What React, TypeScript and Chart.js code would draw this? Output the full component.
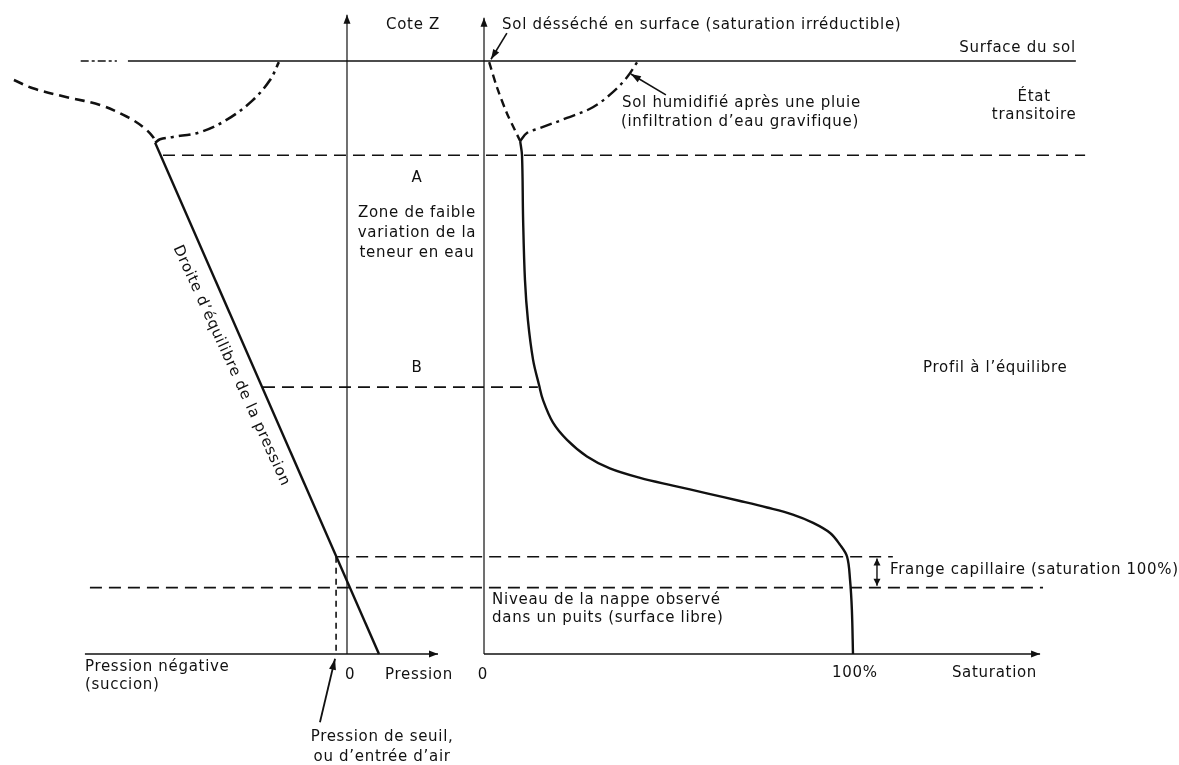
import React, { useEffect, useRef } from "react";
import { Chart, registerables } from "chart.js";

Chart.register(...registerables);

const INK = "#111111";
const FONT_FAMILY = "'DejaVu Sans', 'Liberation Sans', sans-serif";

// ---- Elevations (Cote Z) ----
const zSurface = 100;
const zA = 84.1;
const zB = 45.0;
const zFrange = 16.4;
const zNappe = 11.2;
const zBase = 0;
const zAxisTopLeft = 107.8;
const zAxisTopRight = 107.3;

// ---- Pressure side (left) ----
const pressionLineP = [-73.8, 12.3];
const pressionLineZ = [86.2, 0];
const pSeuil = -4.2;
const dryPressionP = [-128.1, -120.8, -107.7, -95.0, -84.6, -78.5, -74.6, -73.8];
const dryPressionZ = [96.8, 95.4, 93.9, 92.6, 90.6, 88.9, 87.2, 86.2];
const wetPressionP = [-73.8, -71.9, -66.9, -56.5, -46.2, -36.2, -29.6, -26.2];
const wetPressionZ = [86.2, 86.8, 87.2, 88.0, 90.1, 93.4, 96.8, 99.8];
const pressionBaselineP = [-100.8, 35.0];

// ---- Saturation side (right), % ----
const drySatS = [1.4, 3.5, 6.2, 8.1, 9.8];
const drySatZ = [99.8, 95.6, 91.2, 88.7, 86.5];
const wetSatS = [9.8, 11.7, 15.2, 22.5, 29.5, 35.0, 38.8, 41.5];
const wetSatZ = [86.5, 87.9, 88.7, 90.4, 92.2, 94.8, 97.3, 99.8];
const eqSatS = [9.8, 10.3, 10.6, 11.1, 11.9, 13.3, 14.9, 16.0, 18.7, 22.5, 27.9, 34.1, 42.3, 51.2, 60.4, 69.4, 76.7, 83.7, 89.2, 93.8, 96.5, 98.4, 99.2, 99.7, 100];
const eqSatZ = [86.5, 84.1, 73.2, 63.1, 56.3, 49.6, 45.4, 42.8, 39.0, 36.1, 33.3, 31.3, 29.7, 28.4, 27.1, 25.8, 24.7, 23.5, 22.1, 20.4, 18.4, 16.4, 12.5, 7.4, 0];
const saturationBaselineS = [0, 150.7];

// ---- Horizontal reference levels (extent, saturation units) ----
const surfaceLineS = [-96.5, 160.4];
const surfaceDashS = [-109.3, -99.5];
const levelAS = [-87.0, 162.9];
const levelBS = [-59.9, 14.6];
const frangeS = [-39.8, 110.8];
const nappeS = [-106.8, 151.5];

// ---- Pointers ----
const sechePointerS = [6.2, 1.9];
const sechePointerZ = [104.7, 100.3];
const humidePointerS = [49.3, 39.8];
const humidePointerZ = [94.3, 97.8];
const seuilPointerP = [-10.4, -4.6];
const seuilPointerZ = [-11.5, -0.8];
const frangeArrowS = [106.5, 106.5];
const frangeArrowZ = [16.1, 11.5];

// ---- Scale ranges ----
const yRange = [-18.72, 110.29];
const xpRange = [-133.46, 320.0];
const xsRange = [-131.17, 188.35];

type Label = { text: string; axis: "xp" | "xs"; x: number; z: number; align?: CanvasTextAlign; rotate?: number };
const labels: Label[] = [
  { text: "Cote Z", axis: "xp", x: 15, z: 106.1, align: "left" },
  { text: "Sol désséché en surface (saturation irréductible)", axis: "xs", x: 4.9, z: 106.1, align: "left" },
  { text: "Surface du sol", axis: "xs", x: 160.4, z: 102.2, align: "right" },
  { text: "Sol humidifié après une pluie", axis: "xs", x: 37.4, z: 92.9, align: "left" },
  { text: "(infiltration d’eau gravifique)", axis: "xs", x: 37.1, z: 89.7, align: "left" },
  { text: "État", axis: "xs", x: 149.1, z: 93.9, align: "center" },
  { text: "transitoire", axis: "xs", x: 149.1, z: 90.9, align: "center" },
  { text: "A", axis: "xp", x: 26.9, z: 80.3, align: "center" },
  { text: "Zone de faible", axis: "xp", x: 26.9, z: 74.4, align: "center" },
  { text: "variation de la", axis: "xp", x: 26.9, z: 71.0, align: "center" },
  { text: "teneur en eau", axis: "xp", x: 26.9, z: 67.6, align: "center" },
  { text: "B", axis: "xp", x: 26.9, z: 48.2, align: "center" },
  { text: "Profil à l’équilibre", axis: "xs", x: 119.0, z: 48.2, align: "left" },
  { text: "Droite d’équilibre de la pression", axis: "xp", x: -44.5, z: 48.6, align: "center", rotate: 65.5 },
  { text: "Frange capillaire (saturation 100%)", axis: "xs", x: 110.0, z: 14.2, align: "left" },
  { text: "Niveau de la nappe observé", axis: "xs", x: 2.2, z: 9.1, align: "left" },
  { text: "dans un puits (surface libre)", axis: "xs", x: 2.2, z: 6.1, align: "left" },
  { text: "Pression négative", axis: "xp", x: -100.8, z: -2.2, align: "left" },
  { text: "(succion)", axis: "xp", x: -100.8, z: -5.2, align: "left" },
  { text: "0", axis: "xp", x: 1.2, z: -3.5, align: "center" },
  { text: "Pression", axis: "xp", x: 14.6, z: -3.5, align: "left" },
  { text: "0", axis: "xs", x: -0.3, z: -3.5, align: "center" },
  { text: "100%", axis: "xs", x: 100.5, z: -3.2, align: "center" },
  { text: "Saturation", axis: "xs", x: 126.8, z: -3.2, align: "left" },
  { text: "Pression de seuil,", axis: "xp", x: 13.5, z: -14.0, align: "center" },
  { text: "ou d’entrée d’air", axis: "xp", x: 13.5, z: -17.4, align: "center" },
];

const zip = (xs: number[], zs: number[]) => xs.map((x, i) => ({ x, y: zs[i] }));
const flat = (xs: number[], z: number) => xs.map((x) => ({ x, y: z }));

function mk(axis: "xp" | "xs", data: { x: number; y: number }[], o: any = {}) {
  return {
    xAxisID: axis,
    yAxisID: "y",
    data,
    showLine: true,
    pointRadius: 0,
    borderColor: INK,
    backgroundColor: INK,
    borderWidth: o.w ?? 1.5,
    borderDash: o.dash ?? [],
    tension: o.tension ?? 0,
    borderCapStyle: "butt",
    arrowEnd: o.arrowEnd ?? false,
    arrowStart: o.arrowStart ?? false,
    arrowLen: o.arrowLen ?? 9,
    arrowHalf: o.arrowHalf ?? 3.5,
  };
}

const DASH = [12, 7];

function buildDatasets() {
  return [
    // axes
    mk("xp", zip([0, 0], [zBase, zAxisTopLeft]), { w: 1.2, arrowEnd: true }),
    mk("xs", zip([0, 0], [zBase, zAxisTopRight]), { w: 1.2, arrowEnd: true }),
    mk("xp", flat(pressionBaselineP, zBase), { w: 1.4, arrowEnd: true }),
    mk("xs", flat(saturationBaselineS, zBase), { w: 1.4, arrowEnd: true }),
    // surface
    mk("xs", flat(surfaceLineS, zSurface), { w: 1.6 }),
    mk("xs", flat(surfaceDashS, zSurface), { w: 1.4, dash: [8, 3, 3, 3] }),
    // levels
    mk("xs", flat(levelAS, zA), { w: 1.6, dash: DASH }),
    mk("xs", flat(levelBS, zB), { w: 1.6, dash: DASH }),
    mk("xs", flat(frangeS, zFrange), { w: 1.6, dash: DASH }),
    mk("xs", flat(nappeS, zNappe), { w: 1.6, dash: DASH }),
    mk("xp", zip([pSeuil, pSeuil], [zFrange, zBase]), { w: 1.6, dash: [6, 5] }),
    // pressure side
    mk("xp", zip(pressionLineP, pressionLineZ), { w: 2.4 }),
    mk("xp", zip(dryPressionP, dryPressionZ), { w: 2.6, dash: [10, 6], tension: 0.35 }),
    mk("xp", zip(wetPressionP, wetPressionZ), { w: 2.6, dash: [12, 5, 3, 5], tension: 0.35 }),
    // saturation side
    mk("xs", zip(drySatS, drySatZ), { w: 2.4, dash: [8, 5], tension: 0.3 }),
    mk("xs", zip(wetSatS, wetSatZ), { w: 2.4, dash: [12, 5, 3, 5], tension: 0.35 }),
    mk("xs", zip(eqSatS, eqSatZ), { w: 2.4, tension: 0.35 }),
    // pointers
    mk("xs", zip(sechePointerS, sechePointerZ), { w: 1.6, arrowEnd: true, arrowLen: 10 }),
    mk("xs", zip(humidePointerS, humidePointerZ), { w: 1.6, arrowEnd: true, arrowLen: 10 }),
    mk("xp", zip(seuilPointerP, seuilPointerZ), { w: 1.8, arrowEnd: true, arrowLen: 11 }),
    mk("xs", zip(frangeArrowS, frangeArrowZ), { w: 1.4, arrowEnd: true, arrowStart: true, arrowLen: 7, arrowHalf: 3.5 }),
  ];
}

function head(ctx: CanvasRenderingContext2D, from: any, to: any, len: number, half: number) {
  const a = Math.atan2(to.y - from.y, to.x - from.x);
  const bx = to.x - len * Math.cos(a);
  const by = to.y - len * Math.sin(a);
  const px = -Math.sin(a) * half;
  const py = Math.cos(a) * half;
  ctx.beginPath();
  ctx.moveTo(to.x, to.y);
  ctx.lineTo(bx + px, by + py);
  ctx.lineTo(bx - px, by - py);
  ctx.closePath();
  ctx.fill();
}

const annotate = {
  id: "annotate",
  afterDatasetsDraw(chart: any) {
    const ctx: CanvasRenderingContext2D = chart.ctx;
    ctx.save();
    ctx.fillStyle = INK;
    chart.data.datasets.forEach((ds: any, i: number) => {
      const pts = chart.getDatasetMeta(i).data;
      if (pts.length < 2) return;
      if (ds.arrowEnd) head(ctx, pts[pts.length - 2], pts[pts.length - 1], ds.arrowLen, ds.arrowHalf);
      if (ds.arrowStart) head(ctx, pts[1], pts[0], ds.arrowLen, ds.arrowHalf);
    });
    ctx.font = `15px ${FONT_FAMILY}`;
    (ctx as any).letterSpacing = "0.7px";
    ctx.textBaseline = "middle";
    const yScale = chart.scales.y;
    labels.forEach((l) => {
      const x = chart.scales[l.axis].getPixelForValue(l.x);
      const y = yScale.getPixelForValue(l.z);
      ctx.save();
      ctx.translate(x, y);
      if (l.rotate) ctx.rotate((l.rotate * Math.PI) / 180);
      ctx.textAlign = l.align ?? "left";
      ctx.fillText(l.text, 0, 0);
      ctx.restore();
    });
    ctx.restore();
  },
};

export default function App() {
  const ref = useRef<HTMLCanvasElement>(null);
  useEffect(() => {
    if (!ref.current) return;
    const chart = new Chart(ref.current, {
      type: "scatter",
      data: { datasets: buildDatasets() as any },
      options: {
        animation: false,
        responsive: false,
        maintainAspectRatio: false,
        events: [],
        layout: { padding: 0 },
        plugins: { legend: { display: false }, tooltip: { enabled: false } },
        scales: {
          xp: { type: "linear", axis: "x", display: false, min: xpRange[0], max: xpRange[1] },
          xs: { type: "linear", axis: "x", display: false, min: xsRange[0], max: xsRange[1] },
          y: { type: "linear", display: false, min: yRange[0], max: yRange[1] },
        },
      } as any,
      plugins: [annotate],
    });
    return () => chart.destroy();
  }, []);
  return (
    <div style={{ position: "fixed", left: 0, top: 0, width: 1179, height: 765, background: "#fff" }}>
      <canvas ref={ref} width={1179} height={765} style={{ display: "block", width: 1179, height: 765 }} />
    </div>
  );
}
